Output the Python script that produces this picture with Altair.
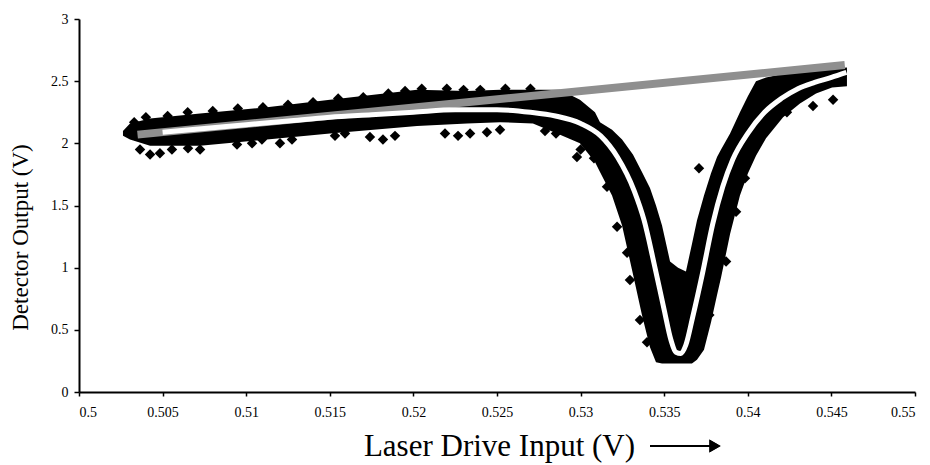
import altair as alt
import pandas as pd

# Dense cloud of detector readings: lower / upper edge of the black band vs laser drive
band_x = [0.50263, 0.50305, 0.50425, 0.50724, 0.51124, 0.51501, 0.52022, 0.52321,
          0.52518, 0.52715, 0.52877, 0.52996, 0.53086, 0.53116, 0.53188, 0.53248,
          0.53313, 0.53367, 0.53415, 0.53451, 0.53487, 0.53535, 0.53583, 0.53630,
          0.53666, 0.53696, 0.53738, 0.53780, 0.53816, 0.53840, 0.53894, 0.53953,
          0.54001, 0.54049, 0.54109, 0.54211, 0.54312, 0.54408, 0.54504, 0.54593]
band_lo = [2.06, 2.03, 1.98, 1.98, 2.03, 2.08, 2.14, 2.16,
           2.17, 2.16, 2.07, 2.00, 1.85, 1.77, 1.58, 1.34,
           0.95, 0.62, 0.36, 0.24, 0.23, 0.23, 0.23, 0.23,
           0.23, 0.26, 0.34, 0.56, 0.78, 0.92, 1.27, 1.58,
           1.76, 1.90, 2.04, 2.21, 2.32, 2.40, 2.45, 2.46]
band_hi = [2.10, 2.16, 2.20, 2.24, 2.29, 2.35, 2.43, 2.42,
           2.43, 2.43, 2.43, 2.35, 2.25, 2.17, 2.11, 2.03,
           1.91, 1.77, 1.64, 1.50, 1.34, 1.05, 1.00, 0.97,
           1.19, 1.38, 1.58, 1.76, 1.89, 1.95, 2.08, 2.25,
           2.38, 2.50, 2.53, 2.56, 2.57, 2.59, 2.60, 2.61]

# Individual scattered readings at the ragged edges of the cloud
pt_x = [0.50365, 0.50425, 0.50484, 0.50556, 0.50652, 0.50724, 0.50945, 0.51035,
        0.51094, 0.51202, 0.51274, 0.51531, 0.51591, 0.51740, 0.51818, 0.51890,
        0.52189, 0.52267, 0.52339, 0.52440, 0.52518, 0.52787, 0.52853,
        0.50330, 0.50400, 0.50530, 0.50650, 0.50800, 0.50950, 0.51100, 0.51250,
        0.51400, 0.51550, 0.51700, 0.51850, 0.51950, 0.52050, 0.52200, 0.52300,
        0.52400, 0.52550, 0.52700,
        0.52978, 0.53000, 0.53080, 0.53158, 0.53218, 0.53278, 0.53295, 0.53355,
        0.53397, 0.53708, 0.53983, 0.53930, 0.53770, 0.53870,
        0.54234, 0.54390, 0.54510]
pt_y = [1.95, 1.91, 1.92, 1.95, 1.96, 1.95, 1.99, 2.00,
        2.03, 2.00, 2.03, 2.06, 2.08, 2.05, 2.03, 2.06,
        2.08, 2.06, 2.08, 2.09, 2.11, 2.10, 2.08,
        2.17, 2.21, 2.22, 2.25, 2.26, 2.28, 2.29, 2.31,
        2.33, 2.36, 2.37, 2.40, 2.42, 2.44, 2.44, 2.43,
        2.43, 2.44, 2.44,
        1.89, 1.95, 1.88, 1.65, 1.33, 1.12, 0.90, 0.58,
        0.40, 1.80, 1.72, 1.45, 0.62, 1.05,
        2.25, 2.30, 2.35]

# Fitted absorption curve
fit_x = [0.5050, 0.5075, 0.5100, 0.5125, 0.5150, 0.5175, 0.5200, 0.5225,
         0.5250, 0.5270, 0.5285, 0.5300, 0.5312, 0.5322, 0.5332, 0.5338,
         0.5344, 0.5350, 0.5354, 0.5357, 0.5360, 0.5363, 0.5367, 0.5373,
         0.5379, 0.5385, 0.5391, 0.5400, 0.5410, 0.5420, 0.5430, 0.5440,
         0.5450, 0.5459]
fit_y = [2.09, 2.12, 2.15, 2.18, 2.21, 2.23, 2.25, 2.27,
         2.27, 2.25, 2.22, 2.16, 2.06, 1.89, 1.62, 1.38,
         1.03, 0.66, 0.42, 0.32, 0.31, 0.38, 0.60, 0.96,
         1.35, 1.65, 1.87, 2.08, 2.25, 2.36, 2.44, 2.49,
         2.53, 2.57]

# Linear baseline (no absorption)
base_x = [0.5035, 0.5458]
base_y = [2.07, 2.63]

x_ticks = [0.5, 0.505, 0.51, 0.515, 0.52, 0.525, 0.53, 0.535, 0.54, 0.545, 0.55]
y_ticks = [0, 0.5, 1, 1.5, 2, 2.5, 3]

FONT = "Liberation Serif"

band = pd.DataFrame({"x": band_x, "lo": band_lo, "hi": band_hi})
pts = pd.DataFrame({"x": pt_x, "y": pt_y})
fit = pd.DataFrame({"x": fit_x, "y": fit_y})
base = pd.DataFrame({"x": base_x, "y": base_y})

xscale = alt.Scale(domain=[0.5, 0.55], nice=False, zero=False)
yscale = alt.Scale(domain=[0, 3], nice=False)

xaxis = alt.Axis(values=x_ticks, format=".3~f", title="Laser Drive Input (V)",
                 grid=False, domainColor="black", domainWidth=2, tickColor="black",
                 tickSize=4, tickWidth=1.5, labelFont=FONT, labelFontSize=14,
                 labelColor="black", labelPadding=9, titleFont=FONT, titleFontSize=31,
                 titleFontWeight="normal", titleColor="black", titleX=420, titleY=54,
                 titleBaseline="middle", titleAlign="center")
yaxis = alt.Axis(values=y_ticks, format=".1~f", title="Detector Output (V)",
                 grid=False, domainColor="black", domainWidth=2, tickColor="black",
                 tickSize=5, tickWidth=1.5, labelFont=FONT, labelFontSize=14,
                 labelColor="black", labelPadding=6, titleFont=FONT, titleFontSize=23,
                 titleFontWeight="normal", titleColor="black", titleX=-59, titleY=218,
                 titleAngle=270, titleBaseline="middle", titleAlign="center")

cloud = alt.Chart(band).mark_area(color="black", interpolate="linear").encode(
    x=alt.X("x:Q", scale=xscale, axis=xaxis),
    y=alt.Y("lo:Q", scale=yscale, axis=yaxis),
    y2="hi:Q",
)

scatter = alt.Chart(pts).mark_point(shape="diamond", filled=True, color="black",
                                    size=110, opacity=1).encode(
    x=alt.X("x:Q", scale=xscale), y=alt.Y("y:Q", scale=yscale)
)

baseline = alt.Chart(base).mark_line(color="#8f8f8f", strokeWidth=8).encode(
    x=alt.X("x:Q", scale=xscale), y=alt.Y("y:Q", scale=yscale)
)

fitline = alt.Chart(fit).mark_line(color="white", strokeWidth=5,
                                   interpolate="monotone").encode(
    x=alt.X("x:Q", scale=xscale), y=alt.Y("y:Q", scale=yscale)
)

# Arrow next to the x-axis title
shaft = alt.Chart(base).mark_rule(color="black", strokeWidth=2).encode(
    x=alt.value(571), x2=alt.value(632), y=alt.value(427)
)
head = alt.Chart(base).mark_point(shape="triangle-right", filled=True, color="black",
                                  size=170, opacity=1).encode(
    x=alt.value(636), y=alt.value(427)
)

chart = alt.layer(cloud, scatter, baseline, fitline, shaft, head).properties(
    width=836, height=373,
    padding={"left": 79, "top": 19, "right": 15, "bottom": 73},
    autosize=alt.AutoSizeParams(type="none"),
    background="white",
).configure_view(stroke=None)

chart.save("out.html", embed_options={"renderer": "svg", "actions": False})
